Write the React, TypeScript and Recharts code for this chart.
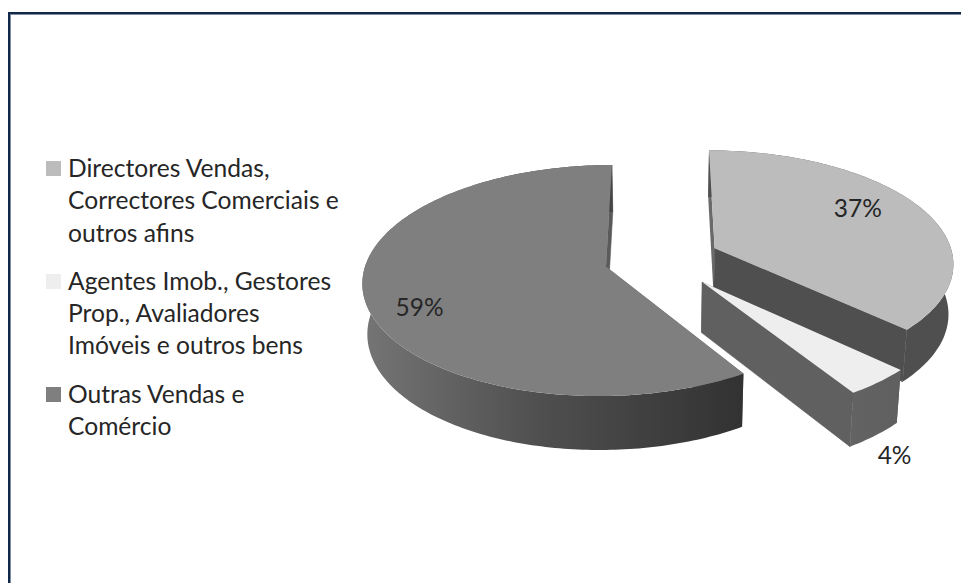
import { Legend, Pie, PieChart } from 'recharts';

const categories = [
  'Directores Vendas,\nCorrectores Comerciais e\noutros afins',
  'Agentes Imob., Gestores\nProp., Avaliadores\nImóveis e outros bens',
  'Outras Vendas e\nComércio',
];
const shares = [37, 4, 59];
const topColors = ['#bcbcbc', '#eeeeee', '#7f7f7f'];
const cutColors = ['#4f4f4f', '#606060', '#5a5a5a'];
const backCutColors = ['#6a6a6a', '#606060', '#6e6e6e'];

const pieData = categories.map((name, i) => ({ name, value: shares[i], fill: topColors[i] }));

// how far each slice is pulled out of the disc
const explodes = [0.245, 0.26, 0.24];

// label placement: distance along the slice's middle, then a small screen nudge
const labelReach = [0.7, 1.18, 0.77];
const labelNudge = [[-2, -11], [-20, 52], [-2, 15]];

// tilted disc: the rim lands on a perspective ellipse, the base sits on a second one
const PERSPECTIVE = 0.12;
const TOP_SQUASH = 112 / 239;
const BASE_SCALE_X = 235 / 239;
const BASE_SQUASH = 115.4 / 239;
const BASE_DROP = 49.8;

type Pt = [number, number];

const project = (cx: number, cy: number, r: number, u: number, v: number, base: boolean): Pt => {
  const w = 1 + PERSPECTIVE * v;
  const rx = base ? r * BASE_SCALE_X : r;
  const ry = base ? r * BASE_SQUASH : r * TOP_SQUASH;
  return [cx + (rx * u) / w, cy + (base ? BASE_DROP : 0) - (ry * v) / w];
};

const toPath = (pts: Pt[]) =>
  pts.map((p, i) => `${i ? 'L' : 'M'}${p[0].toFixed(2)} ${p[1].toFixed(2)}`).join(' ') + ' Z';

const Slice3D = (props: any) => {
  const { cx, cy, outerRadius: r, startAngle, endAngle, index, fill } = props;
  const from = Math.min(90 - startAngle, 90 - endAngle);
  const to = Math.max(90 - startAngle, 90 - endAngle);
  const mid = (((from + to) / 2) * Math.PI) / 180;
  const ax = explodes[index] * Math.sin(mid);
  const ay = explodes[index] * Math.cos(mid);

  const at = (deg: number, base: boolean) =>
    project(cx, cy, r, ax + Math.sin((deg * Math.PI) / 180), ay + Math.cos((deg * Math.PI) / 180), base);

  const arcAngles: number[] = [];
  for (let a = from; a < to; a += 1) arcAngles.push(a);
  arcAngles.push(to);

  const apexTop = project(cx, cy, r, ax, ay, false);
  const apexBase = project(cx, cy, r, ax, ay, true);
  const topFace = [apexTop, ...arcAngles.map((a) => at(a, false))];
  const rimWall = [...arcAngles.map((a) => at(a, false)), ...[...arcAngles].reverse().map((a) => at(a, true))];
  const cutFrom = [apexTop, at(from, false), at(from, true), apexBase];
  const cutTo = [apexTop, at(to, false), at(to, true), apexBase];
  const gradId = `rim-${index}`;

  return (
    <g>
      <defs>
        {index === 2 ? (
          <linearGradient id={gradId} x1="0" y1="0" x2="1" y2="0">
            <stop offset="0%" stopColor="#757575" />
            <stop offset="45%" stopColor="#505050" />
            <stop offset="100%" stopColor="#323232" />
          </linearGradient>
        ) : (
          <linearGradient id={gradId} x1="0" y1="0" x2="1" y2="0">
            <stop offset="0%" stopColor={index === 0 ? '#4f4f4f' : '#636363'} />
            <stop offset="100%" stopColor={index === 0 ? '#4f4f4f' : '#5f5f5f'} />
          </linearGradient>
        )}
      </defs>
      <path d={toPath(cutFrom)} fill={backCutColors[index]} />
      <path d={toPath(cutTo)} fill={cutColors[index]} stroke={cutColors[index]} strokeWidth={0.6} />
      <path d={toPath(rimWall)} fill={`url(#${gradId})`} />
      <path d={toPath(topFace)} fill={fill} />
    </g>
  );
};

const sliceLabel = (props: any) => {
  const { cx, cy, outerRadius: r, midAngle, index, value } = props;
  const mid = ((90 - midAngle) * Math.PI) / 180;
  const reach = explodes[index] + labelReach[index];
  const [x, y] = project(cx, cy, r, reach * Math.sin(mid), reach * Math.cos(mid), false);
  return (
    <text
      x={x + labelNudge[index][0]}
      y={y + labelNudge[index][1]}
      fontFamily="Lato"
      fontSize={24.5}
      fill="#262626"
      textAnchor="middle"
      dominantBaseline="central"
    >
      {value}%
    </text>
  );
};

const LegendList = () => (
  <div style={{ fontFamily: 'Lato', fontSize: 24.6, lineHeight: '32.3px', color: '#262626' }}>
    {pieData.map((entry) => (
      <div key={entry.name} style={{ position: 'relative', paddingLeft: 22, marginBottom: 16, whiteSpace: 'pre-line' }}>
        <span style={{ position: 'absolute', left: 0, top: 9, width: 15, height: 15, background: entry.fill }} />
        {entry.name}
      </div>
    ))}
  </div>
);

export default function App() {
  return (
    <div style={{ position: 'absolute', left: 0, top: 0, width: 961, height: 583, background: '#fff', overflow: 'hidden' }}>
      <div
        style={{
          position: 'absolute',
          left: 8,
          top: 12,
          width: 970,
          height: 590,
          border: '2px solid #10284a',
          boxShadow: 'inset 1px 1px 0 #7f8ca3',
        }}
      />
      <div style={{ position: 'absolute', left: 0, top: 0 }}>
        <PieChart width={961} height={583} margin={{ top: 0, right: 0, bottom: 0, left: 0 }}>
          <Legend
            layout="vertical"
            align="center"
            verticalAlign="middle"
            content={<LegendList />}
            wrapperStyle={{ position: 'absolute', left: 46, top: 152, width: 310 }}
          />
          <Pie
            data={pieData}
            dataKey="value"
            nameKey="name"
            cx={661.5}
            cy={259}
            outerRadius={239}
            startAngle={90}
            endAngle={-270}
            stroke="none"
            shape={Slice3D}
            label={sliceLabel}
            labelLine={false}
            isAnimationActive={false}
          />
        </PieChart>
      </div>
    </div>
  );
}
